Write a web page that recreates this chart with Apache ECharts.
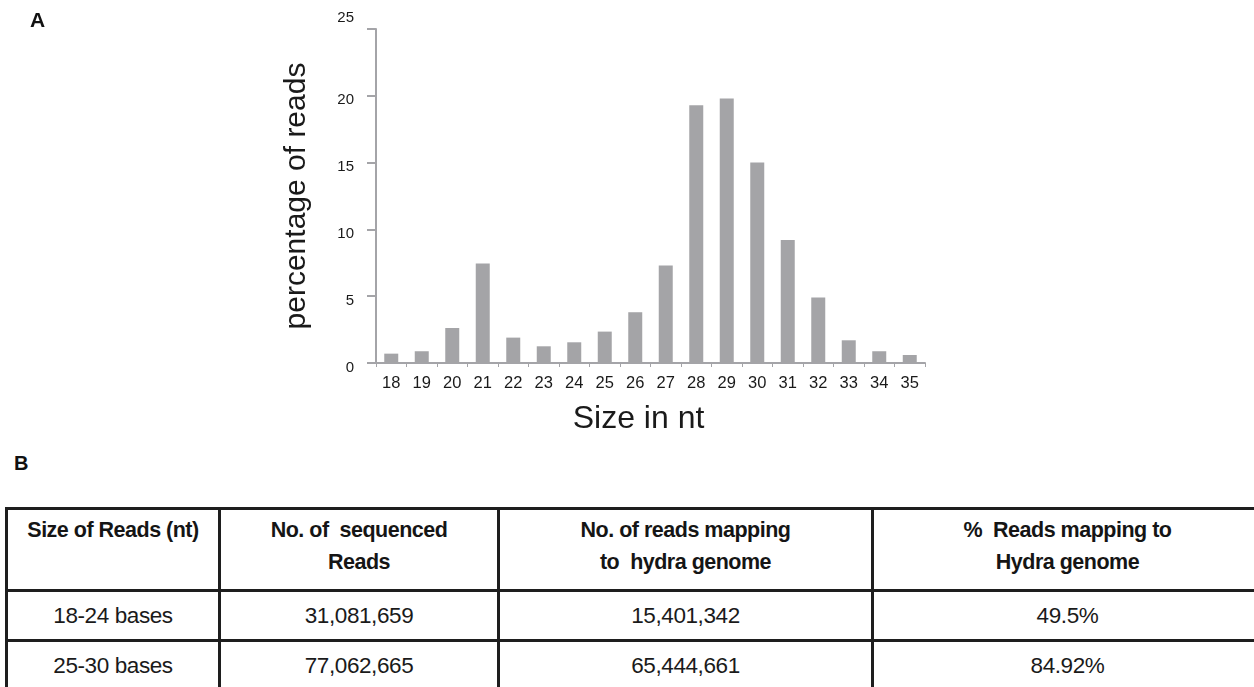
<!DOCTYPE html>
<html>
<head>
<meta charset="utf-8">
<script src="https://cdn.jsdelivr.net/npm/echarts@6/dist/echarts.min.js"></script>
<style>
  html, body { margin: 0; padding: 0; background: #fff; }
  body { width: 1254px; height: 687px; position: relative; overflow: hidden; font-family: "Liberation Sans", Arial, Helvetica, sans-serif; }
  #chart { position: absolute; left: 0; top: 0; width: 1254px; height: 440px; }
  .panel { position: absolute; font-weight: bold; color: #111; font-family: "Liberation Sans", Arial, sans-serif; }
  #labA { left: 30px; top: 8px; font-size: 21px; }
  #labB { left: 14px; top: 452px; font-size: 20px; }
  table { position: absolute; left: 5px; top: 507px; border-collapse: collapse; width: 1256px; table-layout: fixed; color: #1a1a1a; }
  td, th { border: 3px solid #1e1e1e; text-align: center; padding: 0; }
  th { font-size: 21.5px; font-weight: bold; vertical-align: top; line-height: 32px; height: 82px; padding-top: 4px; box-sizing: border-box; letter-spacing: -0.5px; color: #151515; }
  td { font-size: 22.5px; height: 47px; line-height: 22px; letter-spacing: -0.4px; }
</style>
</head>
<body>
<div id="chart"></div>
<div class="panel" id="labA">A</div>
<div class="panel" id="labB">B</div>
<table id="tbl"></table>
<script>
// ---- chart data ----
const sizes = ['18','19','20','21','22','23','24','25','26','27','28','29','30','31','32','33','34','35'];
const percentReads = [0.7, 0.88, 2.62, 7.45, 1.9, 1.25, 1.55, 2.35, 3.8, 7.3, 19.3, 19.8, 15.0, 9.2, 4.9, 1.7, 0.88, 0.6];
const yTicks = [0, 5, 10, 15, 20, 25];

// ---- table data ----
const tableHeaders = ['Size of Reads (nt)', 'No. of &nbsp;sequenced<br>Reads', 'No. of reads mapping<br>to &nbsp;hydra genome', '% &nbsp;Reads mapping to<br>Hydra genome'];
const readSizes = ['18-24 bases', '25-30 bases'];
const sequencedReads = ['31,081,659', '77,062,665'];
const mappedReads = ['15,401,342', '65,444,661'];
const percentMapped = ['49.5%', '84.92%'];

// build table
const colWidths = [213, 279, 374, 390];
let html = '<colgroup>' + colWidths.map(w => '<col style="width:' + w + 'px">').join('') + '</colgroup>';
html += '<tr>' + tableHeaders.map(h => '<th>' + h + '</th>').join('') + '</tr>';
for (let i = 0; i < readSizes.length; i++) {
  html += '<tr><td>' + readSizes[i] + '</td><td>' + sequencedReads[i] + '</td><td>' + mappedReads[i] + '</td><td>' + percentMapped[i] + '</td></tr>';
}
document.getElementById('tbl').innerHTML = html;

const chart = echarts.init(document.getElementById('chart'), null, { renderer: 'canvas' });
const axisGray = '#a4a4a8';
chart.setOption({
  animation: false,
  grid: { left: 376, top: 29, width: 549, height: 334 },
  xAxis: {
    type: 'category',
    data: sizes,
    name: 'Size in nt',
    nameLocation: 'middle',
    nameGap: 40,
    nameTextStyle: { fontSize: 32, color: '#1a1a1a', padding: [0, 24, 0, 0], fontFamily: 'Liberation Sans, Arial, sans-serif' },
    axisLine: { lineStyle: { color: axisGray, width: 2 } },
    axisTick: { show: true, length: 4, lineStyle: { color: axisGray, width: 1 } },
    axisLabel: { fontSize: 16.5, color: '#1a1a1a', margin: 12, interval: 0, fontFamily: 'Liberation Sans, Arial, sans-serif' }
  },
  yAxis: {
    type: 'value',
    min: 0,
    max: 25,
    interval: 5,
    name: 'percentage of reads',
    nameLocation: 'middle',
    nameGap: 64,
    nameRotate: 90,
    nameTextStyle: { fontSize: 30, color: '#1a1a1a', fontFamily: 'Liberation Sans, Arial, sans-serif' },
    splitLine: { show: false },
    axisLine: { show: true, lineStyle: { color: axisGray, width: 2 } },
    axisTick: { show: true, length: 9, lineStyle: { color: axisGray, width: 2 } },
    axisLabel: {
      fontSize: 15,
      color: '#1a1a1a',
      margin: 22,
      fontFamily: 'Liberation Sans, Arial, sans-serif',
      formatter: function (v) { return v === yTicks[yTicks.length - 1] ? '{top|' + v + '}' : '{n|' + v + '}'; },
      rich: {
        top: { fontSize: 15, color: '#1a1a1a', padding: [0, 0, 22, 0] },
        n: { fontSize: 15, color: '#1a1a1a', padding: [9, 0, 0, 0] }
      }
    }
  },
  series: [{
    type: 'bar',
    data: percentReads,
    barWidth: 14,
    itemStyle: { color: '#a4a4a7' }
  }]
});
</script>
</body>
</html>
